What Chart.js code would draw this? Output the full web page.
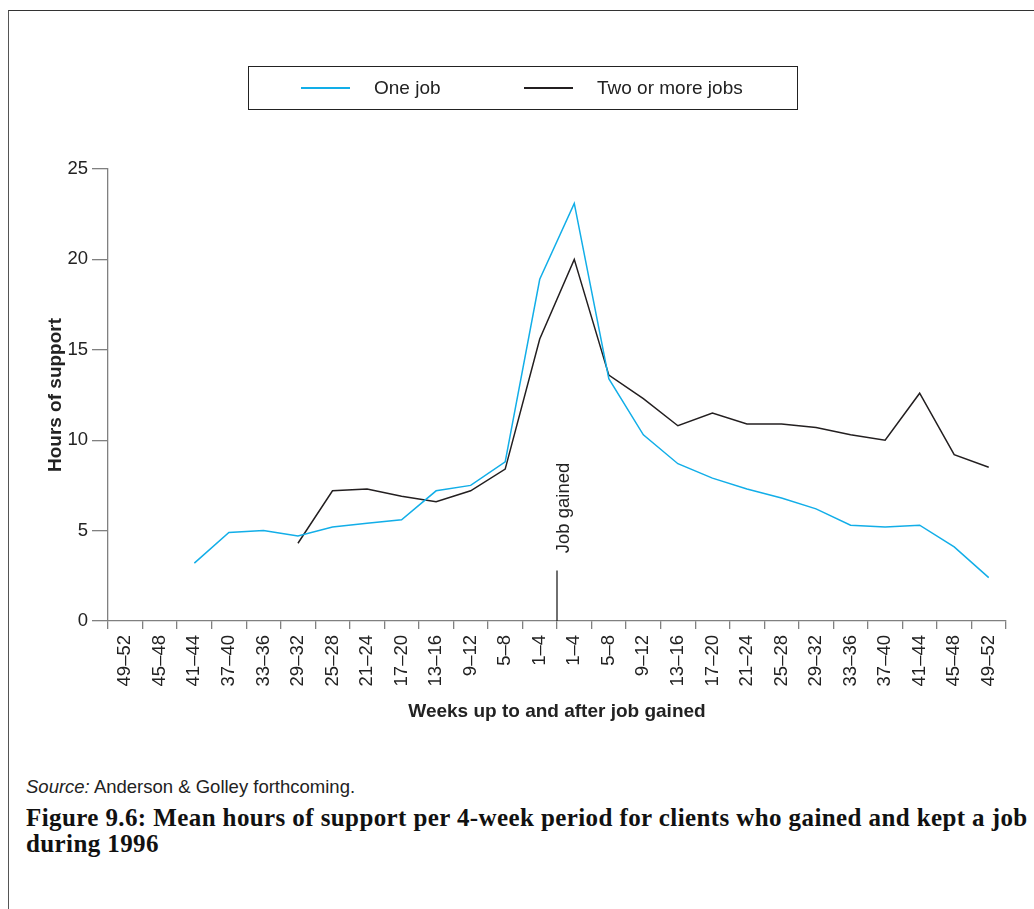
<!DOCTYPE html>
<html>
<head>
<meta charset="utf-8">
<script src="https://cdn.jsdelivr.net/npm/chart.js@4/dist/chart.umd.min.js"></script>
<style>
  body { margin: 0; background: #fff; }
  #wrap { position: relative; width: 1034px; height: 909px; overflow: hidden; }
  #frame { position: absolute; left: 8px; top: 10px; right: -10px; bottom: -10px; border-left: 1px solid #555; border-top: 1px solid #333; }
  #plot { position: absolute; left: 0; top: 0; }
  #legend { position: absolute; left: 248px; top: 66px; width: 548px; height: 42px; border: 1px solid #222; font: 19px "Liberation Sans", Arial, sans-serif; color: #222; }
  .item { position: absolute; top: 0; height: 42px; line-height: 42px; }
  .swatch { position: absolute; top: 20px; height: 1.5px; }
  #source { position: absolute; left: 26px; top: 776px; font: 18.5px "Liberation Sans", Arial, sans-serif; color: #222; }
  #caption { position: absolute; left: 26px; top: 805px; font: bold 25px/26px "Liberation Serif", "Times New Roman", serif; letter-spacing: 0.4px; color: #111; white-space: nowrap; }
</style>
</head>
<body>
<div id="wrap">
  <div id="frame"></div>
  <canvas id="plot" width="1034" height="760"></canvas>
  <div id="legend"></div>
  <div id="source"><i>Source:</i> Anderson &amp; Golley forthcoming.</div>
  <div id="caption">Figure 9.6: Mean hours of support per 4-week period for clients who gained and kept a job<br>during 1996</div>
</div>
<script>
// 4-week periods, before the job was gained (left) and after (right)
const weeks = ['49–52', '45–48', '41–44', '37–40', '33–36', '29–32', '25–28', '21–24', '17–20', '13–16', '9–12', '5–8', '1–4',
               '1–4', '5–8', '9–12', '13–16', '17–20', '21–24', '25–28', '29–32', '33–36', '37–40', '41–44', '45–48', '49–52'];
const oneJob = [null, null, 3.2, 4.9, 5.0, 4.7, 5.2, 5.4, 5.6, 7.2, 7.5, 8.8, 18.9,
                23.1, 13.4, 10.3, 8.7, 7.9, 7.3, 6.8, 6.2, 5.3, 5.2, 5.3, 4.1, 2.4];
const twoOrMore = [null, null, null, null, null, 4.3, 7.2, 7.3, 6.9, 6.6, 7.2, 8.4, 15.6,
                   20.0, 13.6, 12.3, 10.8, 11.5, 10.9, 10.9, 10.7, 10.3, 10.0, 12.6, 9.2, 8.5];
const seriesNames = ['One job', 'Two or more jobs'];
const seriesColors = ['#12aee8', '#231f20'];
const yTicks = [0, 5, 10, 15, 20, 25];
const jobGainedText = 'Job gained';

const axisGrey = '#808080';
const sans = '"Liberation Sans", Arial, sans-serif';

// vertical marker between the last week before and the first week after the job
const jobGainedMarker = {
    id: 'jobGained',
    afterDatasetsDraw(chart) {
        const { ctx, scales: { x, y } } = chart;
        const xp = (x.getPixelForValue(12) + x.getPixelForValue(13)) / 2;
        ctx.save();
        ctx.strokeStyle = '#222';
        ctx.lineWidth = 1.3;
        ctx.beginPath();
        ctx.moveTo(xp, y.getPixelForValue(0));
        ctx.lineTo(xp, y.getPixelForValue(2.8));
        ctx.stroke();
        ctx.translate(xp + 7, y.getPixelForValue(3.75));
        ctx.rotate(-Math.PI / 2);
        ctx.fillStyle = '#222';
        ctx.font = '18.5px ' + sans;
        ctx.textAlign = 'left';
        ctx.textBaseline = 'middle';
        ctx.fillText(jobGainedText, 0, 0);
        ctx.restore();
    }
};

const chart = new Chart(document.getElementById('plot'), {
    type: 'line',
    data: {
        labels: weeks,
        datasets: [oneJob, twoOrMore].map((d, i) => ({
            label: seriesNames[i],
            data: d,
            borderColor: seriesColors[i],
            borderWidth: 1.5,
            pointRadius: 0,
            tension: 0,
            spanGaps: false
        }))
    },
    options: {
        responsive: false,
        animation: false,
        layout: { padding: { left: 0, top: 169, right: 28, bottom: 29 } },
        plugins: { legend: { display: false }, tooltip: { enabled: false } },
        scales: {
            x: {
                offset: true,
                grid: { offset: true, drawOnChartArea: false, tickLength: 8, color: axisGrey, lineWidth: 1.3 },
                border: { color: axisGrey, width: 1.3 },
                ticks: { minRotation: 90, maxRotation: 90, autoSkip: false, padding: 6, color: '#222', font: { family: sans, size: 18.5 } },
                title: { display: true, text: 'Weeks up to and after job gained', color: '#222', font: { family: sans, size: 19, weight: 'bold' }, padding: { top: 0, bottom: 8 } },
                afterFit(s) { s.height = 110; }
            },
            y: {
                min: 0,
                max: 25,
                afterBuildTicks(s) { s.ticks = yTicks.map(v => ({ value: v })); },
                grid: { drawOnChartArea: false, tickLength: 16, color: axisGrey, lineWidth: 1.3 },
                border: { color: axisGrey, width: 1.3 },
                ticks: { padding: 4, color: '#222', font: { family: sans, size: 18.5 } },
                title: { display: true, text: 'Hours of support', color: '#222', font: { family: sans, size: 19, weight: 'bold' }, padding: { top: 44, bottom: 0 } },
                afterFit(s) { s.width = 108; }
            }
        }
    },
    plugins: [jobGainedMarker]
});

// legend box drawn as html from the series names and colours
const legend = document.getElementById('legend');
const swatchX = [52, 275];
const textX = [125, 348];
seriesNames.forEach((name, i) => {
    const sw = document.createElement('div');
    sw.className = 'swatch';
    sw.style.left = swatchX[i] + 'px';
    sw.style.width = '49px';
    sw.style.background = seriesColors[i];
    legend.appendChild(sw);
    const t = document.createElement('div');
    t.className = 'item';
    t.style.left = textX[i] + 'px';
    t.textContent = name;
    legend.appendChild(t);
});
</script>
</body>
</html>
